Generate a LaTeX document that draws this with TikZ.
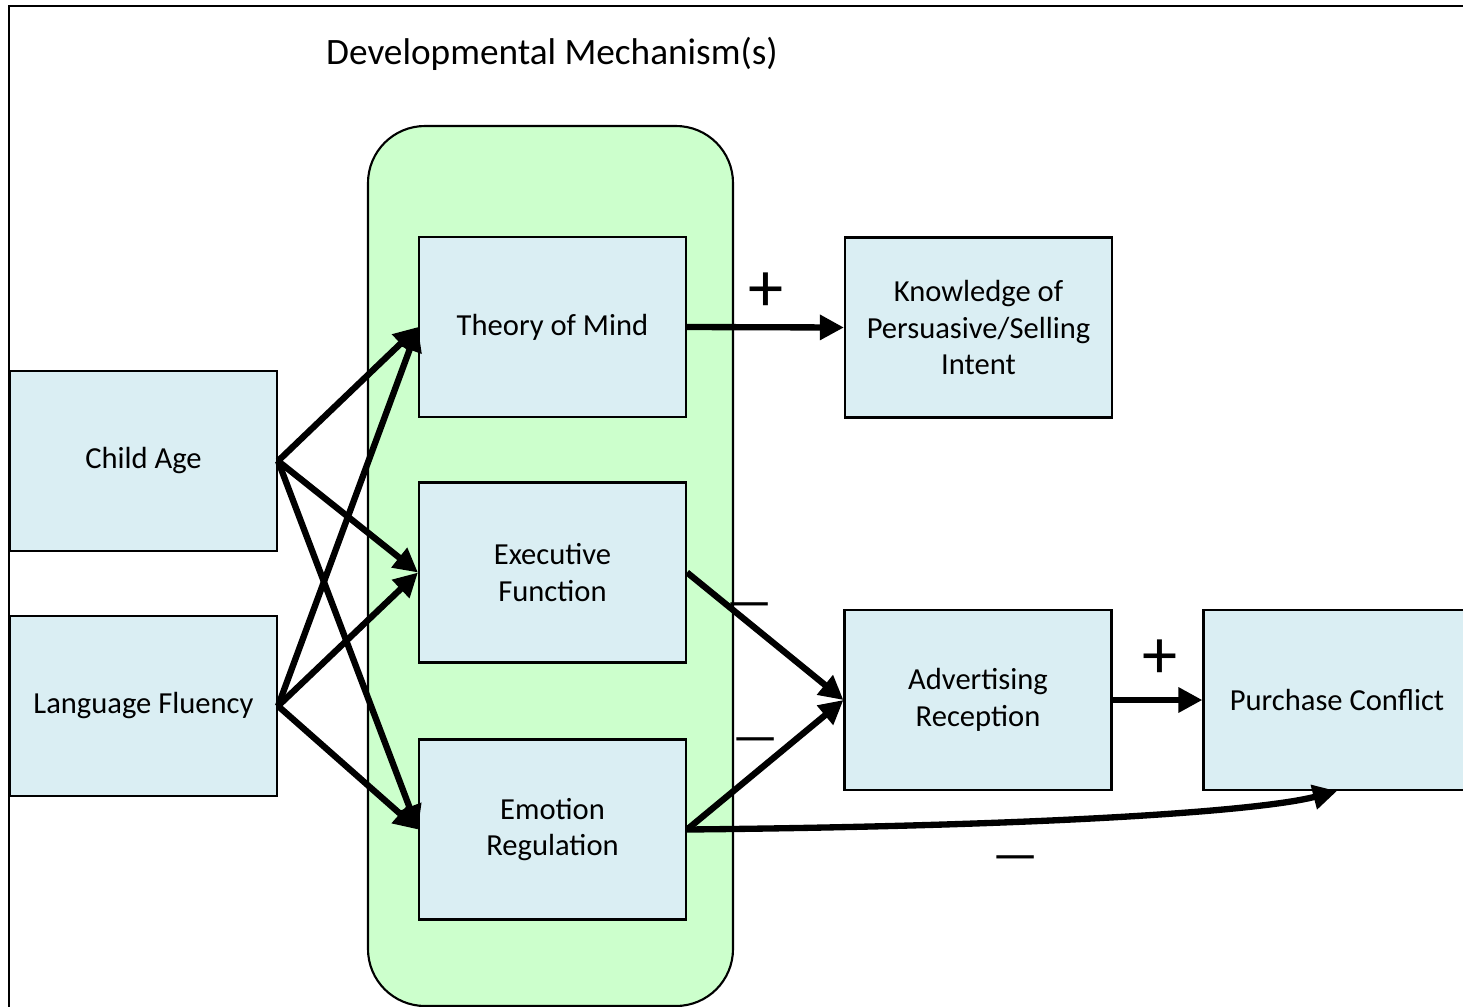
\documentclass[tikz,border=0pt]{standalone}
\usepackage{fontspec}
\setmainfont{Carlito}
\usetikzlibrary{arrows.meta}
\definecolor{boxblue}{HTML}{DAEEF3}
\definecolor{mechgreen}{HTML}{CCFFCC}

\begin{document}
\begin{tikzpicture}[
  box/.style={draw=black, fill=boxblue, line width=0.6pt, minimum width=2.67cm, minimum height=1.8cm, inner sep=2pt, align=center, font=\fontsize{8.7}{10.5}\selectfont},
  link/.style={line width=1.8pt, -{Triangle[length=2.4mm,width=2.4mm]}},
  sign/.style={font=\fontsize{20}{24}\selectfont, inner sep=0pt},
  minus/.style={font=\fontsize{14.5}{17}\selectfont, inner sep=0pt}
]
\useasboundingbox (0,0) rectangle (14.63,10.06);
\clip (0,0) rectangle (14.63,10.06);

% outer frame and mechanism panel
\draw[line width=0.6pt] (0.09,-1) -- (0.09,10.0) -- (15.5,10.0);
\draw[fill=mechgreen, rounded corners=0.57cm, line width=0.6pt] (3.68,0.0) rectangle (7.33,8.80);
\node[font=\fontsize{10.6}{13}\selectfont] (title) at (5.52,9.52) {Developmental\ Mechanism(s)};

% boxes
\node[box] (age) at (1.435,5.45) {Child Age};
\node[box] (lang) at (1.435,3.00) {Language Fluency};
\node[box] (tom) at (5.525,6.79) {Theory of Mind};
\node[box] (ef) at (5.525,4.335) {Executive\\Function};
\node[box] (er) at (5.525,1.765) {Emotion\\Regulation};
\node[box] (know) at (9.785,6.785) {Knowledge of\\Persuasive/Selling\\Intent};
\node[box] (adv) at (9.78,3.06) {Advertising\\Reception};
\node[box] (buy) at (13.37,3.06) {Purchase Conflict};

% arrows into the mechanisms
\draw[link] (age.east) -- (tom.west);
\draw[link] (age.east) -- (ef.west);
\draw[link] (age.east) -- (er.west);
\draw[link] (lang.east) -- (tom.west);
\draw[link] (lang.east) -- (ef.west);
\draw[link] (lang.east) -- (er.west);

% arrows out
\draw[link] (tom.east) -- (know.west);
\draw[link] (ef.east) -- (adv.west);
\draw[link] (er.east) -- (adv.west);
\draw[link] (adv.east) -- (buy.west);
\draw[link] (er.east) .. controls (10.5,1.80) and (12.6,1.95) .. (buy.south);

% signs
\node[sign] (p1) at (7.66,7.14) {+};
\node[sign] (p2) at (11.60,3.47) {+};
\node[minus] (m1) at (7.50,3.95) {---};
\node[minus] (m2) at (7.56,2.60) {---};
\node[minus] (m3) at (10.16,1.42) {---};
\end{tikzpicture}
\end{document}
